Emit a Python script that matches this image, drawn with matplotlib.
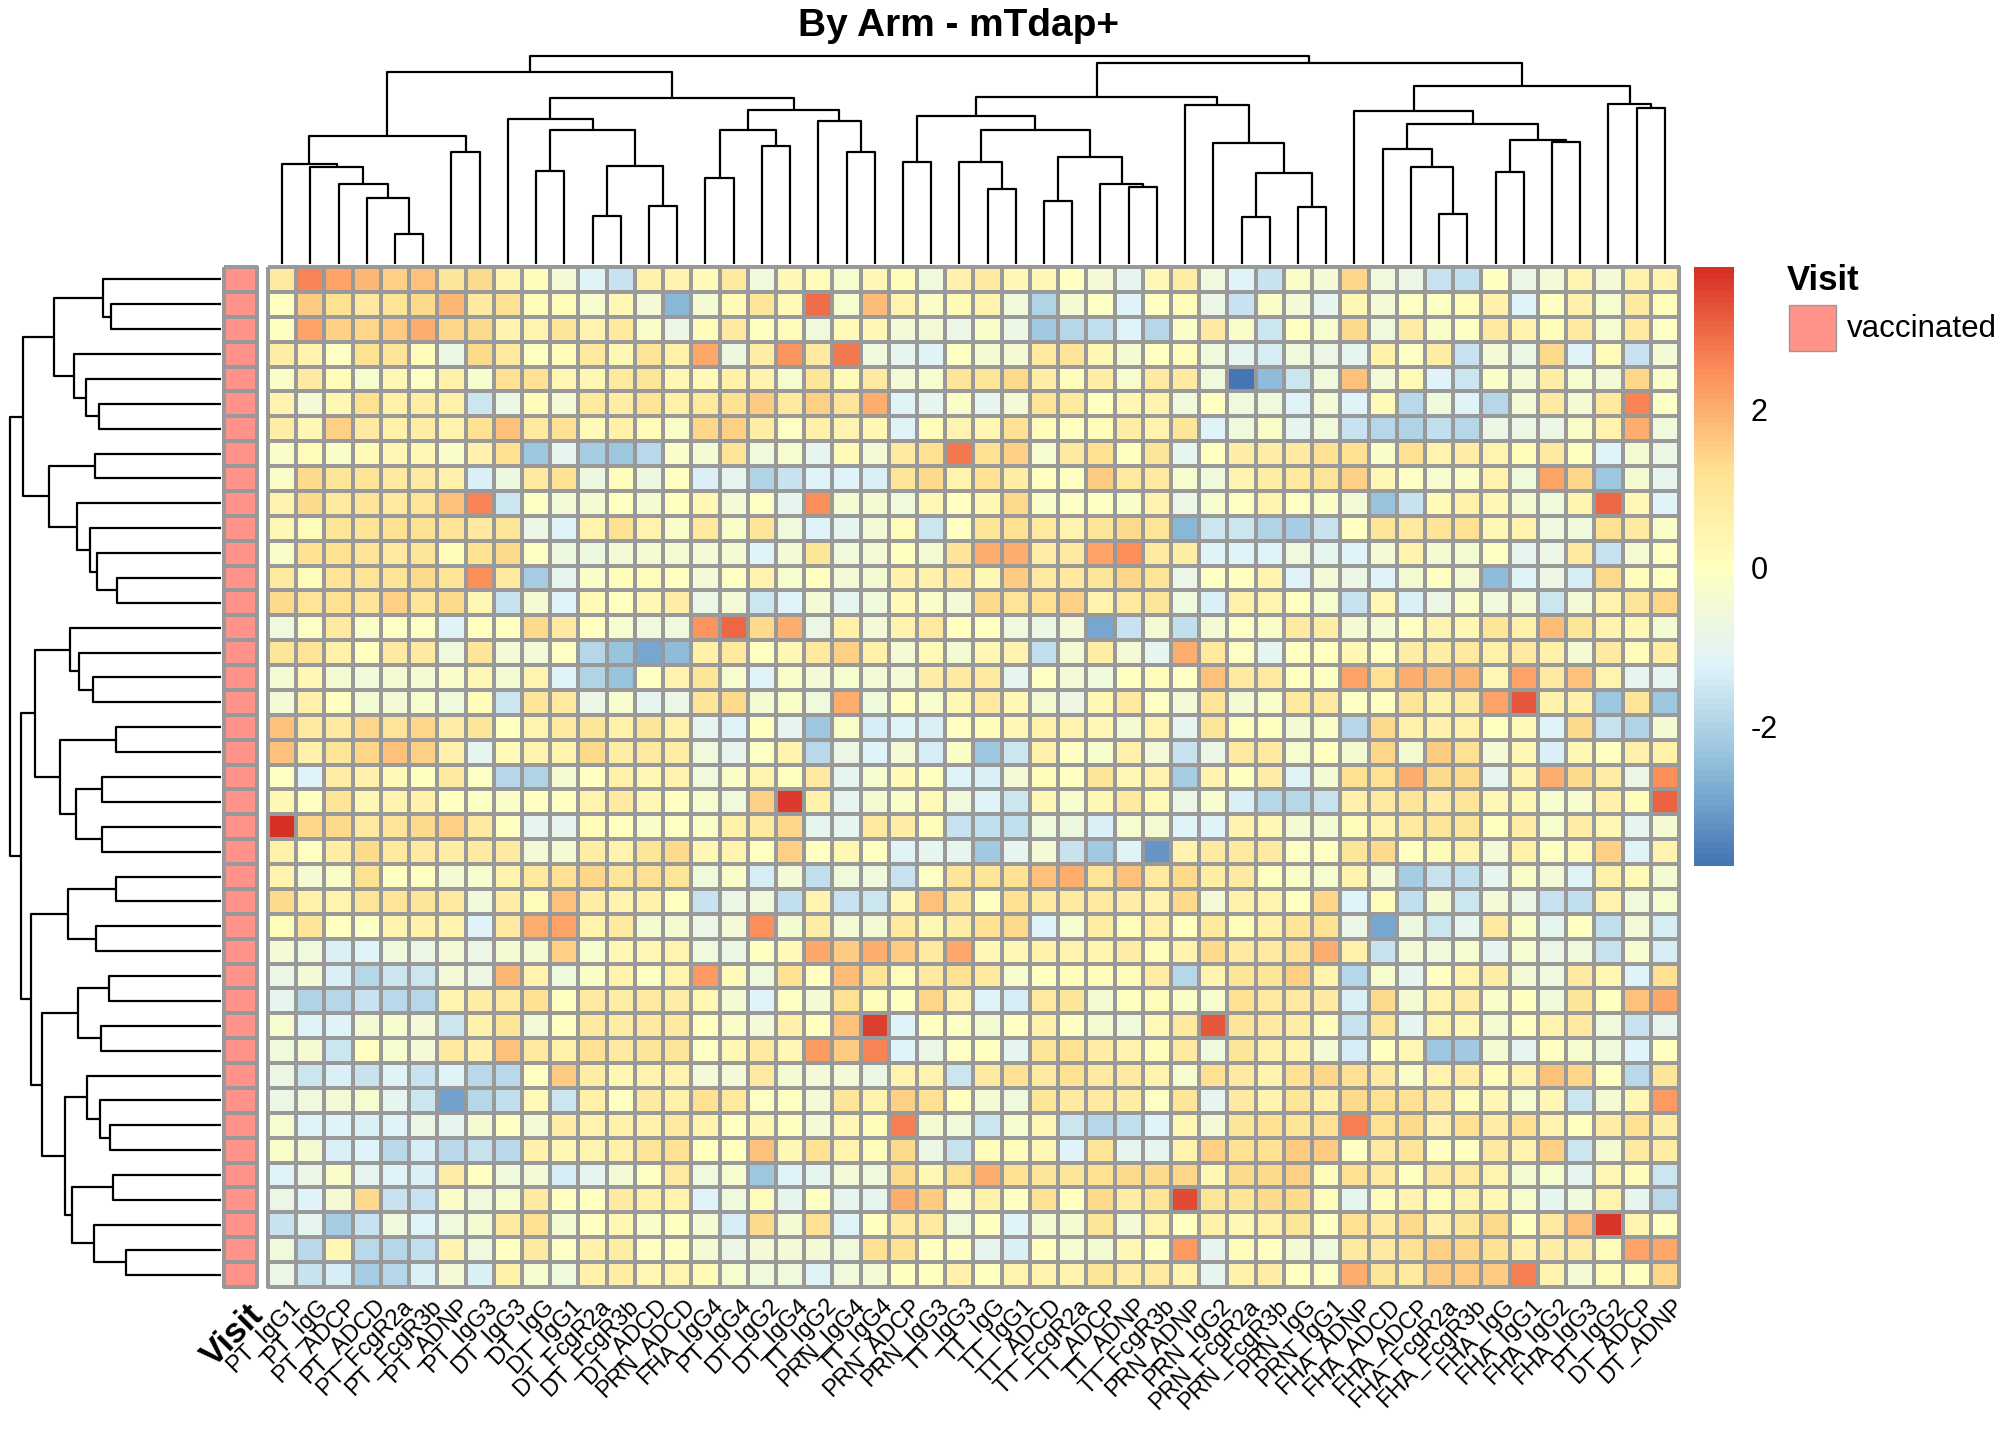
import numpy as np
import matplotlib
matplotlib.use("Agg")
import matplotlib.pyplot as plt
import matplotlib.transforms as mtransforms
from matplotlib.colors import LinearSegmentedColormap, ListedColormap, Normalize
from matplotlib.cm import ScalarMappable
from matplotlib.patches import Rectangle

plt.rcParams['font.family'] = ['Liberation Sans', 'DejaVu Sans']
plt.rcParams['axes.unicode_minus'] = False

# column labels in dendrogram order
col_labels = ['PT_IgG1', 'PT_IgG', 'PT_ADCP', 'PT_ADCD', 'PT_FcgR2a', 'PT_FcgR3b', 'PT_ADNP',
              'PT_IgG3', 'DT_IgG3', 'DT_IgG', 'DT_IgG1', 'DT_FcgR2a', 'DT_FcgR3b', 'DT_ADCD',
              'PRN_ADCD', 'FHA_IgG4', 'PT_IgG4', 'DT_IgG2', 'DT_IgG4', 'TT_IgG2', 'PRN_IgG4',
              'TT_IgG4', 'PRN_ADCP', 'PRN_IgG3', 'TT_IgG3', 'TT_IgG', 'TT_IgG1', 'TT_ADCD',
              'TT_FcgR2a', 'TT_ADCP', 'TT_ADNP', 'TT_FcgR3b', 'PRN_ADNP', 'PRN_IgG2',
              'PRN_FcgR2a', 'PRN_FcgR3b', 'PRN_IgG', 'PRN_IgG1', 'FHA_ADNP', 'FHA_ADCD',
              'FHA_ADCP', 'FHA_FcgR2a', 'FHA_FcgR3b', 'FHA_IgG', 'FHA_IgG1', 'FHA_IgG2',
              'FHA_IgG3', 'PT_IgG2', 'DT_ADCP', 'DT_ADNP']

# scaled values, one list per sample (row order as drawn)
values = [
    [0.9, 2.6, 2.2, 1.9, 1.5, 1.7, 1.0, 1.3, 0.4, 0.1, -0.5, -1.2, -1.6, 0.6, 0.5, 0.2, 0.9,
     -0.6, 0.3, 0.1, -0.3, 0.3, 0.1, -0.6, 0.6, 0.8, 0.3, 0.3, 0.0, -0.5, -1.0, 0.3, 0.7, -0.6,
     -1.2, -1.6, -0.2, -0.5, 1.4, -0.6, -0.8, -1.6, -1.7, 0.0, -0.8, -0.5, 0.4, -0.5, 0.6, 0.4],
    [0.0, 1.6, 1.2, 0.9, 1.1, 1.3, 1.9, 0.8, 1.2, 0.1, 0.1, -0.3, 0.3, -0.5, -2.6, -0.4, 0.2,
     1.0, 0.2, 2.9, -0.3, 1.8, 0.4, -0.2, 0.2, 0.4, -0.6, -2.0, -0.4, -0.1, -1.2, 0.0, 0.1, -0.8,
     -1.6, -0.2, -0.5, -1.0, 0.3, -0.5, -0.1, -0.1, 0.1, 0.6, -1.2, 0.0, 0.6, -0.3, 0.8, 0.1],
    [0.0, 2.2, 1.5, 1.4, 1.6, 2.0, 1.4, 1.3, 0.5, 0.4, 1.0, 0.4, 0.9, -0.2, -0.8, 0.1, 0.8,
     0.0, 0.1, -0.6, 0.2, 0.3, -0.5, -0.5, -0.8, -0.2, -0.8, -2.2, -1.9, -1.7, -1.2, -1.9, -0.2, 0.8,
     -0.2, -1.5, 0.0, -0.3, 1.3, -0.6, 0.7, -0.2, -0.1, 0.9, 0.5, 0.1, 0.8, -0.3, 0.9, -0.1],
    [0.7, 0.5, -0.1, 1.2, 1.1, 0.1, -0.8, 1.3, 0.9, 0.0, 0.1, 0.9, 0.3, 1.1, 0.6, 2.1, -0.7,
     0.7, 2.4, 0.8, 2.8, -0.6, -1.0, -1.2, -0.1, -0.4, -0.4, 0.9, 1.0, 0.3, -0.4, 0.0, 0.1, -0.6,
     -1.0, -1.4, -0.6, -0.8, -1.0, 0.6, -0.1, 0.7, -1.6, -0.5, -0.8, 1.3, -1.2, 0.1, -1.6, -0.5],
    [-0.2, 0.8, 0.1, -0.3, 0.3, -0.1, 0.6, -0.3, 1.2, 1.2, 0.3, 0.3, 0.9, 1.0, 0.3, 0.2, 0.6,
     0.5, -0.3, 1.0, 0.2, 0.8, -0.5, -0.3, 1.0, 1.0, 1.3, 0.7, 0.1, 0.7, -0.3, 0.8, 0.8, -0.6,
     -3.76, -2.5, -1.5, -0.6, 1.7, -0.5, 0.2, -1.2, -1.5, -0.2, -0.5, 0.7, -0.3, -0.5, 1.4, -0.2],
    [0.5, -0.5, 0.3, 1.2, 0.6, 0.7, 0.6, -1.5, -0.8, 0.1, -0.5, 0.9, 0.7, 1.1, 0.6, 0.9, 1.2,
     1.6, 0.9, 1.5, 1.1, 2.0, -1.2, -1.0, -0.2, -1.0, -0.5, 1.1, 0.9, 0.0, 0.3, 0.5, -0.6, 0.0,
     -0.6, -0.6, -1.2, -0.5, -1.2, 0.2, -1.8, -0.6, -1.2, -1.9, -0.5, 0.8, -0.4, 0.9, 2.6, -0.1],
    [0.7, 0.3, 1.5, 0.8, 0.6, 0.7, 0.5, 1.2, 1.7, 0.9, 1.2, 0.2, 0.6, 0.1, -0.2, 1.4, 1.5,
     0.7, -0.1, 0.6, 0.4, 0.3, -1.2, 0.1, 0.4, 0.3, 1.2, 0.1, 0.0, 0.1, 0.7, 0.4, 1.0, -1.2,
     -0.6, -0.2, -1.0, -0.6, -1.6, -1.9, -2.0, -1.7, -1.9, -0.8, -0.8, -0.8, -0.2, 0.5, 2.0, -0.6],
    [-0.2, 0.1, -0.2, 0.2, 0.3, 0.3, -0.2, 0.6, 1.2, -2.3, -1.0, -2.1, -2.3, -1.8, -0.2, -0.4, 1.1,
     -0.6, -0.3, -1.0, 0.2, -0.5, 0.9, 1.2, 2.8, 1.2, 1.5, -0.3, 0.8, 1.2, 0.0, 1.0, -1.0, 0.0,
     0.7, 0.7, 0.8, 1.2, 1.2, -0.2, 1.2, 0.5, 0.7, 0.4, 0.1, 0.9, 0.0, -1.2, -0.4, -0.8],
    [-0.2, 1.3, 1.0, 1.1, 0.8, 0.8, 0.6, -1.3, -0.7, 0.9, 1.2, -0.7, 0.1, -0.7, 0.0, -1.3, -1.0,
     -2.0, -1.6, -1.2, -1.2, -1.3, 1.0, 1.3, 0.5, 1.2, 0.7, 0.0, 0.0, 1.6, 0.9, 0.9, -0.3, -0.6,
     0.4, 0.7, 0.9, 1.1, 1.5, 0.3, -0.1, -0.3, -0.2, 0.5, -0.6, 2.2, 1.4, -2.3, -0.4, -1.0],
    [0.5, 1.3, 0.9, 1.1, 0.9, 1.1, 1.7, 2.6, -1.5, -0.1, -0.5, -0.4, 0.0, -0.4, 0.0, 0.3, -0.5,
     -0.1, -1.0, 2.5, -0.4, -0.4, -0.6, 0.3, 0.0, 0.3, 1.3, -0.2, -0.1, -0.1, -0.2, 0.5, -0.8, -0.3,
     -0.1, 0.4, -0.1, -0.2, -0.5, -2.4, -1.6, 0.2, 0.6, 0.3, -0.4, -0.6, 0.4, 3.0, 0.3, -1.2],
    [0.3, 0.1, 1.0, 1.1, 1.2, 1.2, 1.1, 0.9, 1.0, -0.8, -1.2, 0.5, 1.2, 0.5, -0.2, 0.9, -0.2,
     1.0, -0.6, -1.2, -1.0, -0.5, 0.1, -1.5, 0.0, 1.0, 1.2, 0.9, 0.5, 1.0, 1.3, 1.0, -2.6, -1.5,
     -1.5, -2.0, -2.1, -1.6, 0.0, 1.0, 0.9, 1.1, 1.2, 0.3, 0.5, -0.6, -0.6, 1.2, 0.8, -0.2],
    [-0.2, 1.2, 1.2, 1.1, 0.8, 1.0, 0.1, 1.2, 1.3, -0.1, -0.7, -0.7, -0.5, -0.4, -0.4, -0.5, -0.4,
     -1.2, -0.5, 1.0, -0.6, -0.5, 0.0, -0.4, 1.1, 2.0, 2.0, 0.7, 0.9, 2.2, 2.5, 0.9, 0.7, -1.2,
     -1.2, -1.2, -0.6, -1.0, -1.2, -0.5, 0.5, -0.4, -0.4, -0.1, -1.0, -0.8, 0.8, -1.6, -0.4, -0.1],
    [0.9, 0.1, 1.1, 1.1, 1.1, 1.3, 1.1, 2.5, 0.9, -2.1, -1.0, -0.2, 0.1, 0.1, 0.0, -0.5, -0.1,
     0.5, -0.3, 0.0, -0.5, -0.4, 0.6, 0.6, 0.9, 0.3, 1.6, 0.8, 0.9, 1.0, 1.4, 1.1, -0.8, -0.1,
     0.0, 0.4, -1.2, -0.5, -0.8, -1.2, -0.4, 0.0, -0.4, -2.5, -1.2, -0.8, -1.4, 1.3, 0.1, 0.0],
    [1.3, 1.1, 1.2, 1.1, 1.5, 1.1, 1.3, 0.3, -1.6, -0.4, -1.2, 0.2, 0.0, 0.3, 0.7, -0.8, -0.5,
     -1.5, -1.2, -0.5, -1.0, -0.6, 0.2, -0.2, -0.5, 1.3, 1.1, 1.2, 1.5, 0.5, 0.9, 1.0, -0.6, -1.3,
     0.6, 0.4, 0.0, -0.3, -1.6, 0.3, -1.3, -0.8, -0.2, -0.6, -0.5, -1.5, -0.5, 0.5, 1.0, 1.4],
    [-0.6, -0.1, 0.8, -0.2, -0.1, -0.1, -1.2, 0.0, 0.0, 1.3, 0.8, 0.0, -0.3, -0.6, -0.6, 2.4, 3.0,
     1.3, 2.0, -0.8, 0.6, -0.5, 0.5, 0.9, 0.0, 0.0, -0.6, -0.8, -0.5, -2.9, -1.6, -0.4, -1.7, -0.4,
     -0.1, -0.2, 0.8, 0.7, -0.4, -0.4, 0.0, 0.4, 0.3, 1.0, 0.6, 1.8, 1.0, 0.4, 0.3, -0.4],
    [1.0, 1.1, 0.6, 0.0, 0.8, 0.8, -0.6, 1.0, -0.5, -0.5, -0.1, -1.9, -2.4, -2.9, -2.5, 0.6, 0.9,
     0.0, 0.3, 0.9, 1.5, 0.6, -0.4, 0.2, -0.4, 0.3, 0.4, -1.7, -0.4, 0.7, -0.5, -1.0, 2.0, 0.9,
     -0.1, -1.0, 0.0, 0.0, 0.3, 0.0, 0.7, 0.7, 0.9, 0.6, 0.8, 0.6, -0.4, 0.8, 0.1, 0.7],
    [-0.4, 0.3, -0.4, -0.6, -0.4, -0.4, -0.2, 0.3, -0.4, 0.4, -1.2, -2.0, -2.4, -0.1, 0.5, 1.0, -0.3,
     -1.2, -0.2, -0.5, -0.3, -0.5, -0.5, 0.7, 0.8, 0.8, -1.0, -0.1, -0.5, -0.6, 0.0, 0.1, -0.1, 1.7,
     0.8, 0.9, 0.0, 0.0, 2.2, 1.2, 2.0, 1.8, 1.9, 0.3, 2.2, 0.8, 1.7, 0.4, -1.0, -1.0],
    [-0.5, 0.6, 0.0, -0.4, -0.5, -0.3, -0.6, 0.1, -1.5, 1.0, 0.9, -0.8, -0.3, -1.0, -0.8, 1.0, 1.3,
     -0.4, -0.2, -0.6, 2.0, -0.6, 0.0, -0.3, 0.3, 0.9, 0.3, -0.4, -0.8, 0.3, 0.9, -0.1, -0.5, 1.0,
     -0.4, -0.2, 0.9, 0.8, -0.1, 0.0, 1.0, 0.6, 0.8, 2.2, 3.2, 0.6, 0.6, -2.3, 1.0, -2.3],
    [1.7, 0.8, 0.8, 1.4, 1.1, 1.4, 0.7, 1.0, 0.0, 0.4, 0.8, 1.0, 0.6, 1.0, 0.6, -1.0, -1.2,
     0.0, -1.0, -2.3, -0.2, -1.4, -1.2, -1.3, 0.0, 0.1, 0.3, 0.6, 0.5, 0.3, -0.4, 0.4, -1.0, 1.0,
     0.0, 0.0, -0.4, -0.2, -1.9, 1.3, 0.6, 0.6, 0.6, 0.0, 0.2, -1.2, 1.3, -1.6, -2.0, -0.4],
    [1.7, 0.6, 1.0, 1.4, 1.7, 1.5, 0.6, -1.0, 0.2, 0.4, 0.4, 1.3, 0.7, 0.9, 0.7, -0.6, -1.0,
     -0.1, 0.5, -1.8, -0.8, -1.2, -0.5, -1.4, -0.2, -2.3, -1.5, 0.6, 0.0, -0.3, 0.6, -0.5, -1.6, -0.8,
     0.9, 0.8, -0.3, 0.0, -0.4, 1.4, -0.4, 1.6, 1.2, -0.5, 0.3, -1.3, 0.3, 0.0, 0.6, 0.6],
    [-0.1, -1.2, 0.7, 0.6, 0.2, 0.0, 0.8, -0.1, -1.9, -2.0, -0.4, 0.0, 0.6, 0.3, 0.5, -0.6, -0.2,
     0.4, 0.0, 0.8, -1.0, -0.3, 0.2, 0.0, -1.2, -1.3, -0.5, 0.1, 0.0, 1.0, 0.3, 0.5, -2.1, 0.4,
     0.0, 0.7, -1.2, -0.4, 1.2, 1.2, 2.0, 1.3, 1.3, -1.0, 0.5, 2.0, 1.3, 0.7, -0.8, 2.5],
    [0.3, 0.0, 1.1, 0.3, 0.4, 0.6, 0.0, -0.1, -0.2, 0.0, 0.0, 0.5, 0.8, 0.3, 0.0, -0.3, -0.6,
     1.5, 3.6, 0.6, -1.0, -0.4, -0.2, 0.2, -0.6, -1.2, -1.5, 0.3, -0.3, 0.3, 0.8, 0.2, -0.8, -0.3,
     -1.3, -1.9, -1.9, -1.6, 0.6, 0.9, 1.0, 0.7, 1.0, 0.3, 0.3, -0.3, -0.3, 0.6, 0.1, 3.1],
    [3.79, 1.4, 1.3, 0.9, 1.1, 1.3, 1.5, 0.8, 0.0, -1.0, -1.0, 0.1, 0.0, -0.2, -0.1, -0.2, 0.6,
     0.8, 1.4, -1.0, -1.0, 0.8, 0.7, 0.1, -1.6, -1.7, -1.7, -0.6, -0.7, -1.3, -0.3, -0.4, -1.2, -1.2,
     0.5, 0.3, -0.4, -0.4, 0.1, 0.5, 0.8, 1.0, 1.0, 0.0, 0.7, -0.3, 0.7, 0.3, -1.0, -0.4],
    [0.6, 0.0, 0.7, 1.3, 0.9, 0.8, 0.7, 0.8, 0.8, -0.5, -0.4, 0.7, 0.5, 1.0, 1.3, 0.3, 0.4,
     0.0, 1.5, 0.0, 0.3, 0.0, -1.2, -1.0, -1.0, -2.2, -1.0, -0.5, -1.6, -2.2, -1.2, -3.2, 0.5, 0.8,
     0.9, 0.8, -0.1, 0.0, 1.0, 1.3, 0.0, 0.2, 0.5, -0.5, 0.6, -0.1, 0.2, 1.5, -1.2, 0.5],
    [0.4, -0.4, -0.2, 1.2, 0.0, 0.0, -0.4, -0.3, 0.5, 0.9, 1.2, 1.4, 1.0, 1.2, 1.0, -0.6, -0.2,
     -1.4, -0.5, -1.7, -0.6, -0.6, -1.6, -0.1, 1.0, 1.0, 1.2, 1.7, 2.0, 1.1, 1.7, 0.9, 1.3, 0.7,
     0.8, 0.0, -0.2, -0.3, 0.4, -0.5, -2.1, -1.6, -1.7, -1.0, -0.2, -0.5, -1.2, 0.6, 0.2, -0.4],
    [1.3, 0.6, 0.4, 1.0, 1.1, 1.0, 0.9, -0.6, 0.7, 0.1, 1.7, 0.7, 0.4, 0.6, 0.0, -1.6, -0.8,
     -0.6, -1.7, 0.4, -1.6, -1.5, 0.3, 1.7, 1.0, 0.0, 1.2, 0.8, 0.9, 0.9, 0.7, 0.5, 1.3, -0.5,
     0.6, 0.4, 0.0, 1.4, -1.2, 0.1, -1.7, -0.4, -1.5, -0.5, -0.8, -1.6, -1.7, 0.5, -0.6, -0.3],
    [0.1, 1.0, 0.0, -0.1, 0.4, 0.6, 0.4, -1.2, 0.8, 2.0, 2.2, 0.5, 0.8, -0.4, -0.4, -0.8, -0.5,
     2.5, -0.4, 0.7, -0.5, -0.5, 0.9, 0.3, 0.7, 1.2, 1.3, -1.2, -0.3, 0.7, 0.1, 0.6, 0.0, 0.9,
     0.1, 0.6, 1.0, 1.2, -0.8, -2.9, -0.7, -1.5, -1.0, 0.9, -0.2, -1.0, 0.0, -1.7, -0.5, -1.4],
    [-0.5, -0.6, -1.3, -1.2, -0.6, -0.8, -0.5, -0.8, -0.4, -0.4, 1.5, -0.3, 0.3, 0.3, 0.4, -0.6, -0.8,
     0.0, 0.2, 2.1, 1.6, 2.0, 1.6, 0.9, 2.1, 0.3, 0.3, 0.6, 0.5, 0.4, 0.7, 0.1, 0.5, 1.3,
     0.8, 0.8, 1.2, 2.0, 0.6, -1.6, -0.5, -0.6, -0.3, -1.0, -0.3, -0.8, -0.6, -1.6, -0.3, -1.4],
    [-0.8, -0.5, -1.3, -1.9, -1.5, -1.5, -0.5, -0.8, 1.9, 0.5, -0.6, -0.2, 0.5, -0.1, 0.4, 2.3, 0.2,
     -0.6, 1.2, 0.0, 1.8, 1.0, 0.1, 0.9, 1.2, 0.9, -0.3, 0.0, 0.1, 0.1, 0.1, 0.7, -1.9, 0.4,
     1.0, 1.0, 1.5, 0.5, -1.9, -0.3, -1.0, 0.0, 0.5, 0.7, -0.5, -0.6, 0.8, 0.3, -1.2, 1.2],
    [-1.0, -2.0, -1.9, -1.6, -1.8, -1.9, 0.4, 0.7, 0.8, 1.2, 0.0, 0.8, 0.7, 0.9, 0.7, 0.3, -0.4,
     -1.2, -0.1, -0.4, 1.2, 0.1, 0.0, 1.4, 0.4, -1.2, -1.4, 0.9, 1.0, -0.4, 0.0, 0.1, -0.2, -0.3,
     1.2, 0.8, 0.8, 0.8, -1.3, 1.3, -0.4, 0.5, 0.7, -0.2, 0.0, -0.6, 1.0, 0.0, 1.7, 2.1],
    [-0.3, -1.2, -1.2, -0.5, -0.3, -0.5, -1.5, 0.6, 1.0, -0.5, 0.0, 0.8, 0.7, 0.9, 0.9, 0.0, -0.2,
     -0.5, 0.6, 0.0, 1.7, 3.5, -1.2, 0.0, -0.1, -0.4, 0.0, 0.6, 0.0, -0.4, -0.6, 0.2, 0.9, 3.2,
     1.0, 0.8, 0.7, 0.1, -1.6, 1.0, -1.0, 0.4, 0.3, -0.4, 0.0, 0.4, 0.8, -0.6, -1.6, -1.0],
    [-0.6, -0.4, -1.5, 0.0, -0.3, -0.5, 0.8, 0.6, 1.7, 0.8, 0.6, 1.2, 0.8, 1.0, 1.0, -0.1, 0.3,
     0.8, 0.3, 2.3, 1.6, 2.6, -1.2, -0.8, -0.1, 0.0, -1.0, 1.0, 1.2, 0.7, 0.5, 0.1, 0.8, -0.6,
     1.0, 0.6, 0.4, -0.5, -1.4, 0.0, 0.3, -2.3, -2.2, -0.4, -1.0, 0.0, -0.3, -0.6, -1.2, 0.0],
    [-0.8, -1.5, -1.3, -1.6, -1.2, -1.6, -1.2, -1.8, -1.8, 0.0, 1.6, 0.7, 0.3, 0.5, 0.4, -0.5, -0.5,
     0.8, -0.4, -0.5, -0.5, -0.8, 0.5, 0.4, -1.5, 0.8, 1.2, 0.8, 1.2, 0.8, 0.8, 0.5, -0.3, 1.2,
     0.8, 0.5, 1.2, 1.4, 1.2, 0.8, -0.2, 0.5, 0.7, 0.1, 0.5, 1.7, 1.4, 0.0, -1.8, 1.0],
    [-0.8, -0.6, -0.5, -0.3, -1.0, -1.5, -3.0, -1.9, -1.7, 0.2, -1.5, 0.6, 0.0, 0.8, 0.6, 1.2, 0.9,
     -0.1, 0.0, -0.5, 1.0, 0.4, 1.5, 1.2, 0.0, -0.4, -0.6, 1.0, 0.8, 0.8, 0.7, -0.1, 1.0, -1.0,
     0.8, 0.4, 1.0, 0.6, 1.3, 1.2, 1.2, 0.8, 0.1, 0.3, -0.3, 0.3, -1.5, -0.4, 0.3, 2.3],
    [-0.3, -1.2, -1.2, -1.3, -1.2, -0.8, -1.0, -0.4, -0.1, -0.5, 0.7, 0.4, 0.6, 0.6, 0.9, 0.4, 0.0,
     0.3, 0.0, -0.5, 0.3, 0.1, 2.7, -0.4, -0.6, -1.5, -0.3, 0.3, -1.5, -1.9, -1.7, -1.2, 0.3, -0.5,
     1.0, 1.2, 1.0, 1.2, 2.7, 1.2, 1.3, 0.6, 1.2, 0.7, 1.2, 0.4, 0.0, 0.7, 1.2, 0.7],
    [-0.2, -0.4, -1.3, -1.2, -1.8, -1.4, -1.8, -1.6, -1.8, 0.6, 0.3, 0.4, 0.6, 1.0, 1.2, 0.0, 0.0,
     1.7, 0.3, 1.2, 0.5, 0.1, 1.3, -0.8, -1.6, 0.1, 0.1, 0.3, -1.2, 1.0, -1.0, -1.0, 0.5, 1.5,
     1.2, 1.2, 1.6, 1.6, 0.0, 0.8, 1.0, 0.0, 0.0, 0.8, 0.5, 1.5, -1.5, -0.4, 0.8, 0.7],
    [-1.2, -0.8, -0.2, -1.0, -1.2, -1.3, 0.7, 0.0, -0.6, -0.5, -1.4, -1.0, -0.5, -0.1, 0.9, -0.6, -0.3,
     -2.3, -1.2, -1.0, -0.5, -0.6, 1.3, 0.3, 1.2, 2.0, 1.2, 1.0, 1.0, 1.2, 1.3, 1.3, 1.4, 0.3,
     1.3, 1.3, 1.5, 0.1, 1.2, 0.9, 0.0, 0.8, 0.9, 0.4, -0.4, -0.3, -1.0, 0.3, 0.1, -1.5],
    [-0.8, -1.2, -0.5, 1.3, -1.6, -1.6, -0.2, -0.6, -0.3, 0.8, 0.0, 0.0, 0.8, 0.6, 0.5, -1.2, -0.6,
     0.1, -1.0, 0.0, -1.0, -1.0, 2.0, 1.6, -0.2, 0.6, 0.0, 1.2, 0.0, 1.3, 0.7, 1.0, 3.4, 1.0,
     1.0, 1.3, 1.3, 0.1, -1.0, 0.1, 0.4, 0.1, 0.4, 0.3, -0.3, -1.0, -0.6, 0.4, -1.0, -1.8],
    [-1.6, -1.0, -2.1, -1.6, -0.6, -1.2, -0.6, -0.4, 0.8, 1.2, -0.4, 0.0, 0.3, -0.2, 0.0, -0.4, -1.4,
     1.3, -0.4, 1.2, -1.2, 0.0, 0.8, 0.8, -0.6, 0.0, -1.2, -0.4, -0.4, 1.0, -0.5, 0.4, 0.0, 0.6,
     0.3, 0.6, 1.0, 0.0, 1.2, 0.8, 1.3, 0.6, 1.0, 1.3, 0.0, 0.8, 1.7, 3.7, 0.4, 0.0],
    [-0.6, -1.8, 0.3, -1.8, -1.9, -1.7, 0.4, -0.6, 0.0, 0.8, -0.1, 0.6, 0.7, 0.0, 0.0, -0.4, -0.8,
     -0.5, -0.5, -0.5, -0.6, 1.2, 1.2, 0.0, 0.0, -1.0, -1.3, 0.0, -0.3, -0.4, 0.3, 0.0, 2.3, -1.0,
     0.1, 0.0, -0.4, -0.6, 0.9, 0.8, 1.2, 1.5, 1.4, 1.2, 0.6, 0.7, 0.7, 0.1, 2.2, 2.1],
    [-0.8, -1.6, -1.4, -2.1, -1.9, -1.3, -0.5, -1.3, 0.6, -0.3, -0.6, 0.6, 0.7, 0.3, 0.4, 0.2, -0.3,
     -0.6, -0.6, -1.2, -0.6, -0.5, 0.0, 0.0, 0.6, 0.0, 0.4, 0.5, 0.4, 1.0, 0.7, 0.8, 0.5, -1.0,
     0.6, 0.7, 0.0, -0.1, 2.0, 1.0, 0.9, 1.6, 1.6, 1.6, 2.7, 0.4, -0.5, 0.1, 0.0, 1.4],
]

# dendrogram merges: (left, right, height); ids >= n_leaves point to earlier merges
col_tree = [(4, 5, 90), (3, 50, 200), (2, 51, 242), (1, 52, 293), (0, 53, 302),
            (6, 7, 340), (54, 55, 388), (9, 10, 283), (11, 12, 146), (13, 14, 176),
            (58, 59, 298), (57, 60, 405), (8, 61, 440), (15, 16, 260), (17, 18, 358),
            (63, 64, 405), (20, 21, 338), (19, 66, 434), (65, 67, 467), (62, 68, 503),
            (56, 69, 581), (22, 23, 310), (25, 26, 227), (24, 72, 308), (27, 28, 191),
            (30, 31, 233), (29, 75, 242), (74, 76, 323), (73, 77, 407), (71, 78, 448),
            (34, 35, 143), (36, 37, 173), (80, 81, 275), (33, 82, 368), (32, 83, 482),
            (79, 84, 505), (41, 42, 152), (40, 86, 293), (39, 87, 348), (43, 44, 280),
            (45, 46, 371), (89, 90, 375), (88, 91, 425), (38, 92, 464), (48, 49, 473),
            (47, 94, 485), (93, 95, 539), (85, 96, 608), (70, 97, 630)]

row_tree = [(1, 2, 330), (0, 41, 353), (5, 6, 365), (4, 43, 405), (3, 44, 441),
            (42, 45, 501), (7, 8, 379), (12, 13, 313), (11, 48, 372), (10, 49, 393),
            (9, 50, 431), (47, 51, 515), (46, 52, 593), (16, 17, 383), (15, 54, 425),
            (14, 55, 453), (18, 19, 316), (20, 21, 356), (22, 23, 356), (58, 59, 434),
            (57, 60, 482), (56, 61, 558), (24, 25, 316), (26, 27, 376), (63, 64, 458),
            (28, 29, 337), (30, 31, 360), (66, 67, 430), (34, 35, 333), (33, 69, 363),
            (32, 70, 401), (36, 37, 323), (39, 40, 285), (38, 73, 381), (72, 74, 448),
            (71, 75, 468), (68, 76, 538), (65, 77, 571), (62, 78, 601), (53, 79, 633)]

visit_label = 'vaccinated'
visit_color = '#FF9289'

data = np.array(values)
nrow, ncol = data.shape

pal7 = ['#4575B4', '#91BFDB', '#E0F3F8', '#FFFFBF', '#FEE090', '#FC8D59', '#D73027']
cmap = ListedColormap(LinearSegmentedColormap.from_list('rdylbu_r', pal7)(np.linspace(0, 1, 100)))
norm = Normalize(data.min(), data.max())
grid_col = '#999999'

W, H = 2016, 1440
fig = plt.figure(figsize=(W / 100, H / 100), dpi=100)


def box(x0, y0, x1, y1):
    # pixel box (top-left origin) -> figure fraction rect
    return [x0 / W, 1 - y1 / H, (x1 - x0) / W, (y1 - y0) / H]


def tree_segments(merges, n):
    pos = list(np.arange(n) + 0.5)
    hgt = [0.0] * n
    segs = []
    for a, b, h in merges:
        segs.append(([pos[a], pos[a], pos[b], pos[b]], [hgt[a], h, h, hgt[b]]))
        pos.append((pos[a] + pos[b]) / 2)
        hgt.append(h)
    return segs


HX0, HX1, HY0, HY1 = 268, 1679, 267, 1287

# heatmap
ax = fig.add_axes(box(HX0, HY0, HX1, HY1))
mesh = ax.pcolormesh(np.arange(ncol + 1), np.arange(nrow + 1), data, cmap=cmap, norm=norm,
                     edgecolors=grid_col, linewidth=1.6)
mesh.set_clip_on(False)
ax.set_xlim(0, ncol)
ax.set_ylim(nrow, 0)
ax.axis('off')

trans = mtransforms.blended_transform_factory(ax.transData, ax.transAxes)
for i, lab in enumerate(col_labels):
    ax.text(i + 0.75, -0.008, lab, transform=trans, rotation=45, ha='right', va='top',
            rotation_mode='anchor', fontsize=17)

# annotation column
ax_an = fig.add_axes(box(224, HY0, 257, HY1))
ann = ax_an.pcolormesh([0, 1], np.arange(nrow + 1), np.zeros((nrow, 1)),
                       cmap=ListedColormap([visit_color]), edgecolors=grid_col, linewidth=1.6)
ann.set_clip_on(False)
ax_an.set_xlim(0, 1)
ax_an.set_ylim(nrow, 0)
ax_an.axis('off')
fig.text(247 / W, 1 - 1298 / H, 'Visit', rotation=45, ha='right', va='top',
         rotation_mode='anchor', fontsize=25, fontweight='bold')

# column dendrogram
ax_cd = fig.add_axes(box(HX0, 56, HX1, 264))
for xs, ys in tree_segments(col_tree, ncol):
    ax_cd.plot(xs, ys, color='black', lw=1.6, clip_on=False, solid_capstyle='butt')
ax_cd.set_xlim(0, ncol)
ax_cd.set_ylim(0, col_tree[-1][2])
ax_cd.axis('off')

# row dendrogram
ax_rd = fig.add_axes(box(10, HY0, 221, HY1))
for ys, xs in tree_segments(row_tree, nrow):
    ax_rd.plot(xs, ys, color='black', lw=1.6, clip_on=False, solid_capstyle='butt')
ax_rd.set_xlim(row_tree[-1][2], 0)
ax_rd.set_ylim(nrow, 0)
ax_rd.axis('off')

# colour key
ax_cb = fig.add_axes(box(1694, 267, 1734, 866))
cb = fig.colorbar(ScalarMappable(norm=norm, cmap=cmap), cax=ax_cb)
cb.outline.set_visible(False)
cb.set_ticks([-2, 0, 2])
ax_cb.tick_params(length=0, labelsize=22, pad=12)

# annotation legend
fig.text(1787 / W, 1 - 281 / H, 'Visit', fontsize=25, fontweight='bold', va='center')
fig.add_artist(Rectangle((1789 / W, 1 - 351 / H), 47 / W, 46 / H, transform=fig.transFigure,
                         facecolor=visit_color, edgecolor=grid_col, lw=1))
fig.text(1847 / W, 1 - 329 / H, visit_label, fontsize=22.5, va='center')

fig.text(959 / W, 1 - 26 / H, 'By Arm - mTdap+', fontsize=28, fontweight='bold',
         ha='center', va='center')

fig.savefig('out.png', dpi=100)
